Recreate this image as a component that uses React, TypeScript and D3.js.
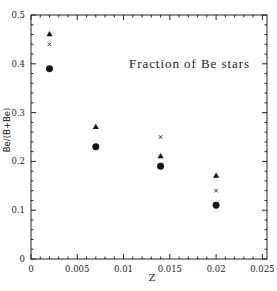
import * as d3 from "d3";
import React, { useEffect, useRef } from "react";

const zValues = [0.002, 0.007, 0.014, 0.02];
const triangleValues = [0.46, 0.27, 0.21, 0.17];
const crossValues = [0.44, null, 0.25, 0.14];
const circleValues = [0.39, 0.23, 0.19, 0.11];
const xTickLabels = ["0", "0.005", "0.01", "0.015", "0.02", "0.025"];
const yTickLabels = ["0", "0.1", "0.2", "0.3", "0.4", "0.5"];

const App = () => {
  const ref = useRef<SVGSVGElement>(null);

  useEffect(() => {
    const width = 277;
    const height = 291;
    const margin = { top: 15, right: 10, bottom: 32, left: 31 };
    const svg = d3.select(ref.current);
    svg.selectAll("*").remove();

    const xScale = d3.scaleLinear().domain([0, 0.0255]).range([margin.left, width - margin.right]);
    const yScale = d3.scaleLinear().domain([0, 0.5]).range([height - margin.bottom, margin.top]);
    const x0 = margin.left, x1 = width - margin.right;
    const y0 = height - margin.bottom, y1 = margin.top;

    const g = svg.append("g");
    g.append("rect")
      .attr("x", x0).attr("y", y1)
      .attr("width", x1 - x0).attr("height", y0 - y1)
      .attr("fill", "none").attr("stroke", "#222").attr("stroke-width", 1);

    // ticks, drawn inward on all four sides
    const xMinor = d3.range(0, 0.0255, 0.001);
    xMinor.forEach((v, i) => {
      const len = i % 5 === 0 ? 5 : 2.5;
      const x = xScale(v);
      g.append("line").attr("x1", x).attr("x2", x).attr("y1", y0).attr("y2", y0 - len).attr("stroke", "#222");
      g.append("line").attr("x1", x).attr("x2", x).attr("y1", y1).attr("y2", y1 + len).attr("stroke", "#222");
    });
    const yMinor = d3.range(0, 0.501, 0.02);
    yMinor.forEach((v, i) => {
      const len = i % 5 === 0 ? 5 : 2.5;
      const y = yScale(v);
      g.append("line").attr("x1", x0).attr("x2", x0 + len).attr("y1", y).attr("y2", y).attr("stroke", "#222");
      g.append("line").attr("x1", x1).attr("x2", x1 - len).attr("y1", y).attr("y2", y).attr("stroke", "#222");
    });

    xTickLabels.forEach((t) => {
      g.append("text")
        .attr("x", xScale(+t)).attr("y", y0 + 13)
        .attr("text-anchor", "middle")
        .attr("font-family", "DejaVu Serif").attr("font-size", 8.5).attr("fill", "#222")
        .text(t);
    });
    yTickLabels.forEach((t) => {
      g.append("text")
        .attr("x", x0 - 6).attr("y", yScale(+t) + 3)
        .attr("text-anchor", "end")
        .attr("font-family", "DejaVu Serif").attr("font-size", 8.5).attr("fill", "#222")
        .text(t);
    });

    g.append("text")
      .attr("x", 152).attr("y", 281)
      .attr("text-anchor", "middle")
      .attr("font-family", "DejaVu Serif").attr("font-size", 10).attr("fill", "#222")
      .text("Z");
    g.append("text")
      .attr("transform", `translate(10,130) rotate(-90)`)
      .attr("text-anchor", "middle")
      .attr("font-family", "DejaVu Sans").attr("font-size", 8.5).attr("fill", "#222")
      .text("Be/(B+Be)");

    g.append("text")
      .attr("x", 129).attr("y", 68)
      .attr("textLength", 120)
      .attr("font-family", "Liberation Serif").attr("font-size", 13).attr("fill", "#222")
      .text("Fraction of Be stars");

    const circleSym = d3.symbol().type(d3.symbolCircle).size(38);
    const triSym = d3.symbol().type(d3.symbolTriangle).size(16);

    zValues.forEach((z, i) => {
      const x = xScale(z);
      g.append("path").attr("d", circleSym()).attr("transform", `translate(${x},${yScale(circleValues[i])})`).attr("fill", "#111");
      g.append("path").attr("d", triSym()).attr("transform", `translate(${x},${yScale(triangleValues[i])})`).attr("fill", "#111");
      const c = crossValues[i];
      if (c !== null) {
        const y = yScale(c);
        const s = 1.8;
        g.append("path")
          .attr("d", `M${x - s},${y - s}L${x + s},${y + s}M${x - s},${y + s}L${x + s},${y - s}`)
          .attr("stroke", "#222").attr("stroke-width", 0.9).attr("fill", "none");
      }
    });
  }, []);

  return (
    <div style={{ position: "absolute", left: 0, top: 0 }}>
      <svg ref={ref} width={277} height={291} style={{ display: "block", background: "#fff" }} />
    </div>
  );
};

export default App;
